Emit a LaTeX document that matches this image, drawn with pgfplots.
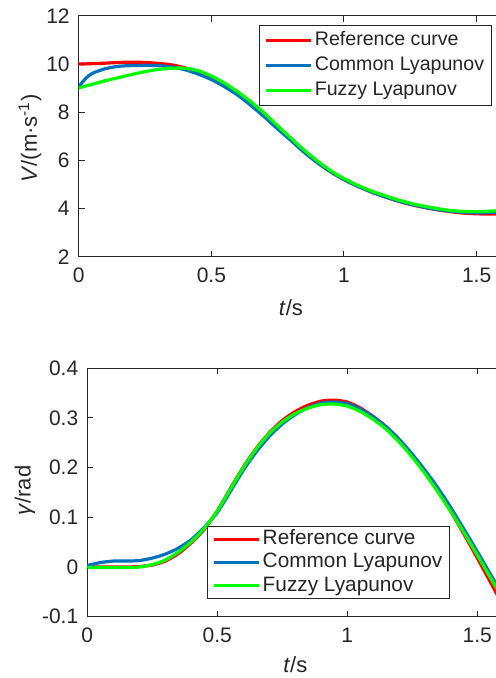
\documentclass[border=0pt]{standalone}
\usepackage{pgfplots}
\usepackage{pgfplotstable}
\pgfplotsset{compat=1.18}
\usepackage{fontspec}
\setmainfont{Liberation Sans}
\definecolor{mgray}{rgb}{0.15,0.15,0.15}
\definecolor{mblue}{rgb}{0,0.447,0.741}
\definecolor{mred}{rgb}{1,0,0}
\definecolor{mgreen}{rgb}{0,1,0}

\pgfplotstableread{
t     ref    com    fuz
0.000 10.00  9.05   9.00
0.025 10.00  9.38   9.08
0.050 10.01  9.60   9.15
0.100 10.03  9.80   9.30
0.150 10.06  9.90   9.43
0.200 10.07  9.93   9.56
0.250 10.06  9.94   9.68
0.300 10.02  9.93   9.77
0.350 9.96   9.87   9.82
0.400 9.84   9.76   9.82
0.450 9.65   9.58   9.72
0.500 9.40   9.35   9.50
0.550 9.10   9.05   9.20
0.600 8.75   8.70   8.84
0.650 8.32   8.27   8.42
0.700 7.85   7.80   7.95
0.750 7.35   7.30   7.43
0.800 6.85   6.82   6.92
0.850 6.35   6.33   6.42
0.900 5.90   5.90   5.97
0.950 5.52   5.52   5.57
1.000 5.20   5.20   5.24
1.050 4.93   4.93   4.97
1.100 4.70   4.70   4.74
1.150 4.50   4.50   4.55
1.200 4.32   4.33   4.37
1.250 4.17   4.18   4.22
1.300 4.05   4.06   4.10
1.350 3.95   3.96   4.00
1.400 3.87   3.89   3.92
1.450 3.81   3.84   3.88
1.500 3.78   3.82   3.87
1.550 3.77   3.83   3.89
1.600 3.78   3.85   3.92
}\vdata

\pgfplotstableread{
t     ref     com     fuz
0.00  0.000   0.003  -0.001
0.05  0.000   0.009  -0.001
0.10  0.000   0.012  -0.001
0.15  0.000   0.012  -0.001
0.20  0.001   0.013   0.000
0.25  0.004   0.018   0.005
0.30  0.012   0.026   0.014
0.35  0.027   0.038   0.030
0.40  0.049   0.055   0.051
0.45  0.076   0.080   0.078
0.50  0.113   0.110   0.113
0.55  0.158   0.152   0.157
0.60  0.201   0.195   0.200
0.65  0.239   0.232   0.238
0.70  0.270   0.263   0.269
0.75  0.295   0.288   0.292
0.80  0.313   0.307   0.309
0.85  0.326   0.321   0.320
0.90  0.334   0.330   0.327
0.95  0.336   0.332   0.328
1.00  0.332   0.329   0.324
1.05  0.320   0.318   0.313
1.10  0.303   0.302   0.297
1.15  0.282   0.282   0.277
1.20  0.255   0.257   0.251
1.25  0.224   0.227   0.221
1.30  0.190   0.194   0.187
1.35  0.152   0.158   0.150
1.40  0.110   0.118   0.110
1.45  0.065   0.075   0.068
1.50  0.018   0.031   0.024
1.55 -0.030  -0.014  -0.021
1.60 -0.078  -0.059  -0.066
}\gdata

\pgfplotsset{
  mstyle/.style={
    scale only axis,
    axis line style={mgray, line width=0.5pt},
    tick style={mgray, line width=0.5pt},
    tick align=inside,
    major tick length=3pt,
    xmin=0, xmax=1.7,
    xtick={0,0.5,1,1.5},
    xticklabels={0,0.5,1,1.5},
    ticklabel style={font=\fontsize{10.5}{12}\selectfont, text=mgray},
    xticklabel style={yshift=-2pt},
    yticklabel style={xshift=-1pt},
    label style={font=\fontsize{11}{13}\selectfont, text=mgray},
    legend cell align=left,
    legend image code/.code={\draw[##1] (0pt,0pt) -- (22.5pt,0pt);},
    every axis plot/.append style={line width=1.6pt, smooth, tension=0.4},
  }
}

\begin{document}
\begin{tikzpicture}
\begin{axis}[mstyle,
  at={(39.35pt,-7.85pt)}, anchor=north west,
  width=225.5pt, height=120.5pt,
  ymin=2, ymax=12, ytick={2,4,6,8,10,12},
  yticklabels={2,4,6,8,10,12},
  xlabel={\textit{t}/s},
  ylabel={\textit{V}/(m·s\textsuperscript{-1})},
  xlabel style={at={([yshift=-25.6pt]rel axis cs:0.4706,0)}, anchor=center},
  ylabel style={at={([xshift=-24.35pt]rel axis cs:0,0.4905)}, anchor=center},
  legend style={at={(rel axis cs:0.9164,0.9614)}, anchor=north east,
    draw=mgray, line width=0.5pt, fill=white,
    font=\fontsize{9.8}{11}\selectfont, text=mgray,
    inner xsep=2.5pt, inner ysep=2pt, row sep=1.2pt,
    nodes={inner sep=1.2pt, text height=6.9pt, text depth=1.9pt}},
]
\addplot[mred] table[x=t, y=ref] {\vdata};
\addlegendentry{Reference curve}
\addplot[mblue] table[x=t, y=com] {\vdata};
\addlegendentry{Common Lyapunov}
\addplot[mgreen] table[x=t, y=fuz] {\vdata};
\addlegendentry{Fuzzy Lyapunov}
\end{axis}

\begin{axis}[mstyle,
  at={(43.65pt,-184.15pt)}, anchor=north west,
  width=221pt, height=124.2pt,
  ymin=-0.1, ymax=0.4, ytick={-0.1,0,0.1,0.2,0.3,0.4},
  yticklabels={-0.1,0,0.1,0.2,0.3,0.4},
  xlabel={\textit{t}/s},
  ylabel={\textit{γ}/rad},
  xlabel style={at={([yshift=-24.15pt]rel axis cs:0.4706,0)}, anchor=center},
  ylabel style={at={([xshift=-31.15pt]rel axis cs:0,0.508)}, anchor=center},
  legend style={at={(rel axis cs:0.270,0.070)}, anchor=south west,
    draw=mgray, line width=0.5pt, fill=white,
    font=\fontsize{10.4}{11}\selectfont, text=mgray,
    inner xsep=2.5pt, inner ysep=0.8pt, row sep=0.1pt,
    nodes={inner sep=1.2pt, text height=7.2pt, text depth=1.9pt}},
]
\addplot[mred] table[x=t, y=ref] {\gdata};
\addlegendentry{Reference curve}
\addplot[mblue] table[x=t, y=com] {\gdata};
\addlegendentry{Common Lyapunov}
\addplot[mgreen] table[x=t, y=fuz] {\gdata};
\addlegendentry{Fuzzy Lyapunov}
\end{axis}

\pgfresetboundingbox
\useasboundingbox (0pt,0pt) rectangle (248pt,-339pt);
\end{tikzpicture}
\end{document}
